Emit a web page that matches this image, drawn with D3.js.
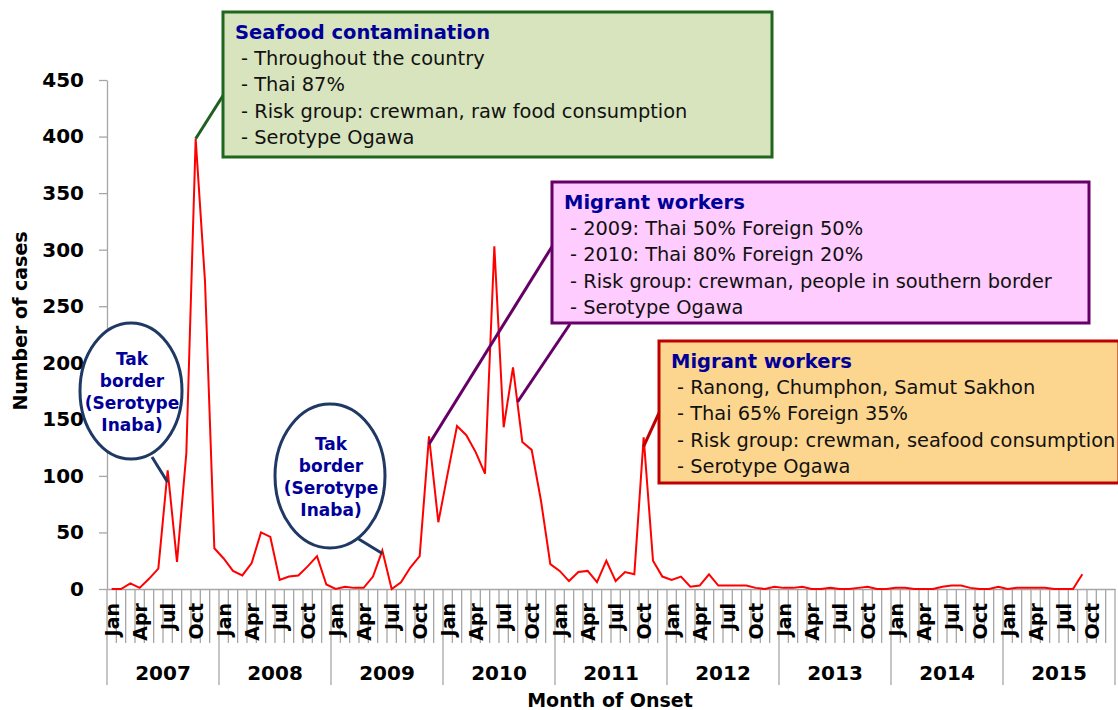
<!DOCTYPE html>
<html>
<head>
<meta charset="UTF-8">
<script src="https://d3js.org/d3.v7.min.js"></script>
<style>
  body { margin: 0; background: #fff; }
  text { font-family: "DejaVu Sans", Verdana, sans-serif; }
</style>
</head>
<body>
<div id="chart"></div>
<script>
    // categories
    const years = [2007, 2008, 2009, 2010, 2011, 2012, 2013, 2014, 2015];
    const monthNames = ["Jan", "Feb", "Mar", "Apr", "May", "Jun", "Jul", "Aug", "Sep", "Oct", "Nov", "Dec"];
    const labelMonths = ["Jan", "Apr", "Jul", "Oct"];
    const yTicks = [0, 50, 100, 150, 200, 250, 300, 350, 400, 450];

    // monthly cases, Jan 2007 .. Sep 2015
    const cases = [
        0, 0, 5, 1, 9, 18, 105, 24, 120, 398, 272, 36,      // 2007
        27, 16, 12, 23, 50, 46, 8, 11, 12, 20, 29, 4,       // 2008
        0, 2, 1, 1, 11, 34, 0, 6, 19, 29, 135, 59,          // 2009
        102, 144, 136, 121, 102, 303, 143, 196, 130, 123, 78, 22, // 2010
        16, 7, 15, 16, 6, 25, 7, 15, 13, 134, 25, 11,       // 2011
        8, 11, 2, 3, 13, 3, 3, 3, 3, 1, 0, 2,               // 2012
        1, 1, 2, 0, 0, 1, 0, 0, 1, 2, 0, 0,                 // 2013
        1, 1, 0, 0, 0, 2, 3, 3, 1, 0, 0, 2,                 // 2014
        0, 1, 1, 1, 1, 0, 0, 0, 13                          // 2015
    ];

    // annotation texts
    const seafoodNote = ["Seafood contamination", "- Throughout the country", "- Thai 87%",
        "- Risk group: crewman, raw food consumption", "- Serotype Ogawa"];
    const migrantNote1 = ["Migrant workers", "- 2009: Thai 50% Foreign 50%", "- 2010: Thai 80% Foreign 20%",
        "- Risk group: crewman, people in southern border", "- Serotype Ogawa"];
    const migrantNote2 = ["Migrant workers", "- Ranong, Chumphon, Samut Sakhon", "- Thai 65% Foreign 35%",
        "- Risk group: crewman, seafood consumption", "- Serotype Ogawa"];
    const takNote = ["Tak", "border", "(Serotype", "Inaba)"];

    const width = 1118, height = 710;
    const plot = {left: 107, right: 1115, top: 80, bottom: 589};

    const svg = d3.select("#chart")
        .append("svg")
        .attr("width", width)
        .attr("height", height)
        .style("display", "block");

    svg.append("rect").attr("width", width).attr("height", height).attr("fill", "#fff");

    const months = years.flatMap(yr => monthNames.map(m => m + " " + yr));

    const x = d3.scaleBand()
        .domain(months)
        .range([plot.left, plot.right]);
    const y = d3.scaleLinear()
        .domain([0, 450])
        .range([plot.bottom, plot.top]);

    const cx = i => x(months[i]) + x.bandwidth() / 2;
    const axisColor = "#a6a6a6";

    // y axis
    const yAxis = svg.append("g")
        .attr("transform", `translate(${plot.left},0)`)
        .call(d3.axisLeft(y).tickValues(yTicks).tickSize(8).tickSizeOuter(0).tickPadding(15));
    yAxis.select(".domain").attr("stroke", axisColor).attr("stroke-width", 1.3);
    yAxis.selectAll(".tick line").attr("stroke", axisColor).attr("stroke-width", 1.3);
    yAxis.selectAll("text")
        .attr("font-family", "DejaVu Sans")
        .attr("font-size", 20)
        .attr("font-weight", "bold")
        .attr("fill", "#000");

    // month boundary ticks
    const bounds = d3.range(months.length + 1);
    svg.append("g")
        .selectAll("line")
        .data(bounds)
        .join("line")
        .attr("x1", i => i < months.length ? x(months[i]) : plot.right)
        .attr("x2", i => i < months.length ? x(months[i]) : plot.right)
        .attr("y1", plot.bottom)
        .attr("y2", i => i % 12 === 0 ? plot.bottom + 96 : plot.bottom + 54)
        .attr("stroke", axisColor)
        .attr("stroke-width", 1.3);

    // x axis with month labels
    const xAxis = svg.append("g")
        .attr("transform", `translate(0,${plot.bottom})`)
        .call(d3.axisBottom(x)
            .tickValues(months.filter(m => labelMonths.includes(m.split(" ")[0])))
            .tickFormat(m => m.split(" ")[0])
            .tickSize(0)
            .tickSizeOuter(0));
    xAxis.select(".domain").attr("stroke", axisColor).attr("stroke-width", 1.3);
    xAxis.selectAll("text")
        .attr("transform", "rotate(-90)")
        .attr("text-anchor", "end")
        .attr("x", -14)
        .attr("y", 0)
        .attr("dy", "0.36em")
        .attr("font-family", "DejaVu Sans")
        .attr("font-size", 19)
        .attr("font-weight", "bold")
        .attr("fill", "#000");

    // year labels
    svg.append("g")
        .selectAll("text")
        .data(years)
        .join("text")
        .attr("x", yr => x("Jan " + yr) + x.bandwidth() * 6)
        .attr("y", 680)
        .attr("text-anchor", "middle")
        .attr("font-size", 20)
        .attr("font-weight", "bold")
        .text(d => d);

    // axis titles
    svg.append("text")
        .attr("x", 610)
        .attr("y", 707)
        .attr("text-anchor", "middle")
        .attr("font-size", 19)
        .attr("font-weight", "bold")
        .text("Month of Onset");
    svg.append("text")
        .attr("transform", "translate(20,321) rotate(-90)")
        .attr("text-anchor", "middle")
        .attr("dy", "0.35em")
        .attr("font-size", 19)
        .attr("font-weight", "bold")
        .text("Number of cases");

    // the case line
    svg.append("path")
        .datum(cases)
        .attr("fill", "none")
        .attr("stroke", "#ff0000")
        .attr("stroke-width", 2)
        .attr("stroke-linejoin", "miter")
        .attr("d", d3.line().x((d, i) => cx(i)).y(d => y(d)));

    // connectors from data points to notes
    const idx = (m, yr) => months.indexOf(m + " " + yr);
    const connectors = [
        {i: idx("Oct", 2007), dy: 0, to: [224, 94], color: "#1f5f1f"},
        {i: idx("Jul", 2007), dy: 12, to: [152, 457], color: "#1f3864"},
        {i: idx("Jun", 2009), dy: 3, to: [357, 538], color: "#1f3864"},
        {i: idx("Nov", 2009), dy: 8, to: [553, 245], color: "#660066"},
        {i: idx("Aug", 2010), dy: 0, to: [570, 324], color: "#660066", from: [517.5, 402]},
        {i: idx("Oct", 2011), dy: 9, to: [659, 413], color: "#c00000"}
    ];
    svg.append("g")
        .selectAll("line")
        .data(connectors)
        .join("line")
        .attr("x1", d => d.from ? d.from[0] : cx(d.i))
        .attr("y1", d => d.from ? d.from[1] : y(cases[d.i]) + d.dy)
        .attr("x2", d => d.to[0])
        .attr("y2", d => d.to[1])
        .attr("stroke", d => d.color)
        .attr("stroke-width", 3);

    // Tak border ellipses
    const ellipses = [{cx: 131, cy: 391, rx: 51, ry: 68}, {cx: 330, cy: 476, rx: 55, ry: 72}];
    ellipses.forEach(e => {
        svg.append("ellipse")
            .attr("cx", e.cx).attr("cy", e.cy).attr("rx", e.rx).attr("ry", e.ry)
            .attr("fill", "#fff")
            .attr("stroke", "#1f3864")
            .attr("stroke-width", 3);
        svg.append("g")
            .selectAll("text")
            .data(takNote)
            .join("text")
            .attr("x", e.cx + 1)
            .attr("y", (d, i) => e.cy - 26 + i * 22)
            .attr("text-anchor", "middle")
            .attr("font-size", 17)
            .attr("font-weight", "bold")
            .attr("fill", "#000099")
            .text(d => d);
    });

    // note boxes
    function noteBox(lines, box, fill, stroke) {
        const g = svg.append("g");
        g.append("rect")
            .attr("x", box.x).attr("y", box.y)
            .attr("width", box.w).attr("height", box.h)
            .attr("fill", fill)
            .attr("stroke", stroke)
            .attr("stroke-width", 3);
        g.selectAll("text")
            .data(lines)
            .join("text")
            .attr("x", (d, i) => box.x + (i === 0 ? 12 : 18))
            .attr("y", (d, i) => box.y + 27 + i * 26.2)
            .attr("font-size", (d, i) => i === 0 ? 19.5 : 19.4)
            .attr("font-weight", (d, i) => i === 0 ? "bold" : "normal")
            .attr("fill", (d, i) => i === 0 ? "#000099" : "#111")
            .text(d => d);
    }
    noteBox(seafoodNote, {x: 223, y: 12, w: 549, h: 145}, "#d7e4bd", "#1f661f");
    noteBox(migrantNote1, {x: 552, y: 182, w: 537, h: 141}, "#ffccff", "#660066");
    noteBox(migrantNote2, {x: 659, y: 341, w: 460, h: 142}, "#fcd68f", "#c00000");
</script>
</body>
</html>
